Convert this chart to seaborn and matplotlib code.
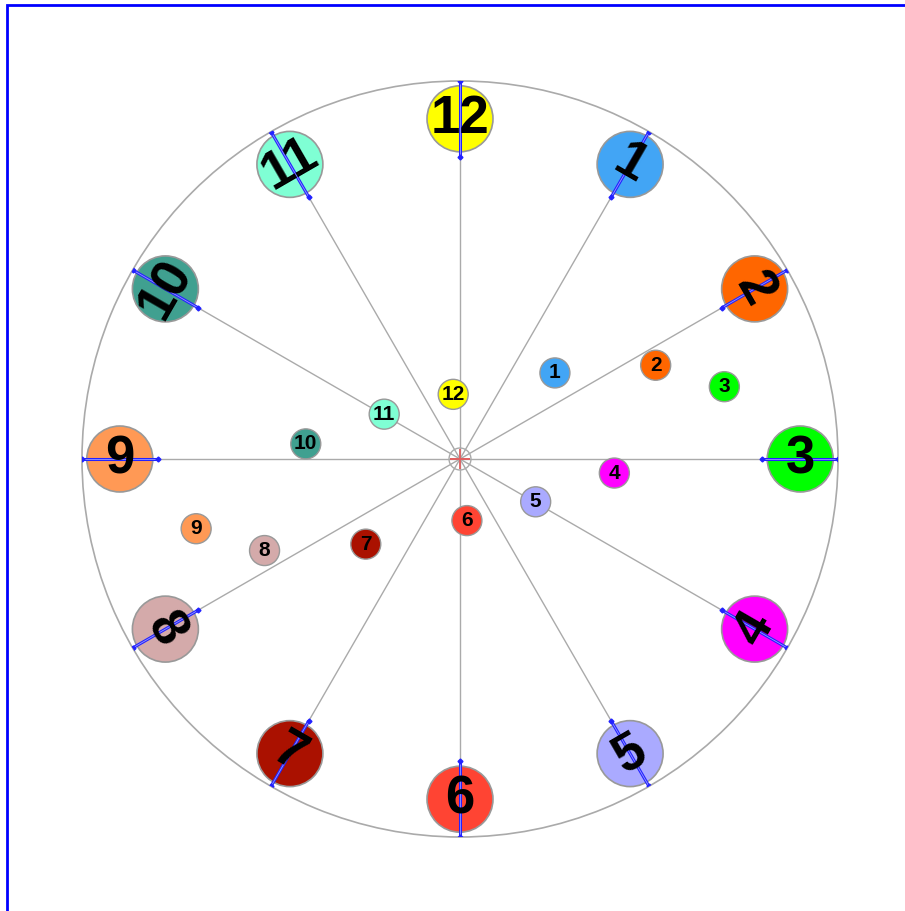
import numpy as np
import pandas as pd
import matplotlib
matplotlib.use("Agg")
import matplotlib.pyplot as plt
from matplotlib.patches import Rectangle
import seaborn as sns

# ---- data ----
labels = ["1", "2", "3", "4", "5", "6", "7", "8", "9", "10", "11", "12"]
colors = ["#42a5f5", "#ff6600", "#00ff00", "#ff00ff", "#aaaaff", "#ff4433",
          "#aa1100", "#d4aaaa", "#ff9955", "#40a090", "#7fffd4", "#ffff00"]
# outer (hour) markers: clock angle in degrees, radius as fraction of dial
hour_angle = [30, 60, 90, 120, 150, 180, 210, 240, 270, 300, 330, 360]
hour_radius = [0.90] * 12
hour_rotation = [-30, -60, 0, 60, 30, 0, -30, -60, 0, 60, 30, 0]
# inner markers
inner_angle = [47.8, 64.4, 74.7, 95.2, 119.5, 173.6, 227.9, 244.9, 255.2, 275.6, 300.6, 354.0]
inner_radius = [0.339, 0.574, 0.725, 0.410, 0.230, 0.164, 0.336, 0.571, 0.722, 0.410, 0.233, 0.172]
tick_inner, tick_outer = 0.80, 1.0

plt.rcParams["font.family"] = ["Liberation Sans", "DejaVu Sans"]

fig = plt.figure(figsize=(9.05, 9.11), dpi=100)
ax = fig.add_axes([82 / 905, 74 / 911, 756 / 905, 756 / 911], projection="polar")
ax.set_theta_zero_location("N")
ax.set_theta_direction(-1)
ax.set_ylim(0, 1)
ax.set_xticks([])
ax.set_yticks([])
ax.grid(False)
ax.spines["polar"].set_color("#aaaaaa")
ax.spines["polar"].set_linewidth(1.2)

th_h = np.deg2rad(hour_angle)
th_i = np.deg2rad(inner_angle)

# spokes
for t in th_h:
    ax.plot([t, t], [0, 1], color="#aaaaaa", lw=1, zorder=1)

palette = dict(zip(labels, colors))
outer_df = pd.DataFrame({"theta": th_h, "r": hour_radius, "label": labels})
inner_df = pd.DataFrame({"theta": th_i, "r": inner_radius, "label": labels})

sns.scatterplot(data=outer_df, x="theta", y="r", hue="label", palette=palette,
                s=2256, edgecolor="#999999", linewidth=1.2, legend=False,
                ax=ax, zorder=3)
sns.scatterplot(data=inner_df, x="theta", y="r", hue="label", palette=palette,
                s=467, edgecolor="#999999", linewidth=1.0, legend=False,
                ax=ax, zorder=3)

# blue ticks along spokes
for t in th_h:
    ax.plot([t, t], [tick_inner, tick_outer], color="#2222ff", lw=2.2,
            zorder=4, solid_capstyle="butt")
    ax.plot([t, t], [tick_inner, tick_outer], color="#9999ff", lw=0.6, zorder=4)
    ax.plot([t, t], [tick_inner, tick_outer], ls="none", marker="D", ms=2.5,
            color="#2222ff", zorder=4)

# labels
for t, r, lab, rot in zip(th_h, hour_radius, labels, hour_rotation):
    ax.text(t, r, lab, ha="center", va="center", rotation=rot,
            rotation_mode="anchor", fontsize=38, fontweight="bold",
            color="black", zorder=5)
for t, r, lab in zip(th_i, inner_radius, labels):
    ax.text(t, r, lab, ha="center", va="center", fontsize=15,
            fontweight="bold", color="black", zorder=5)

# center hub
ax.scatter([0], [0], s=250, facecolors="none", edgecolors="#aaaaaa",
           linewidths=1.0, zorder=6)
ax.plot([0], [0], marker="+", ms=14, mew=1.3, color="#e06060", zorder=6)

ax.set_xlabel("")
ax.set_ylabel("")

# blue frame
fig.patches.append(Rectangle((6.5 / 905, -0.05), 1.2, 1.05 - 5 / 911,
                             transform=fig.transFigure, fill=False,
                             edgecolor="#0000ff", linewidth=2, clip_on=False))

fig.savefig("out.png", dpi=100)
